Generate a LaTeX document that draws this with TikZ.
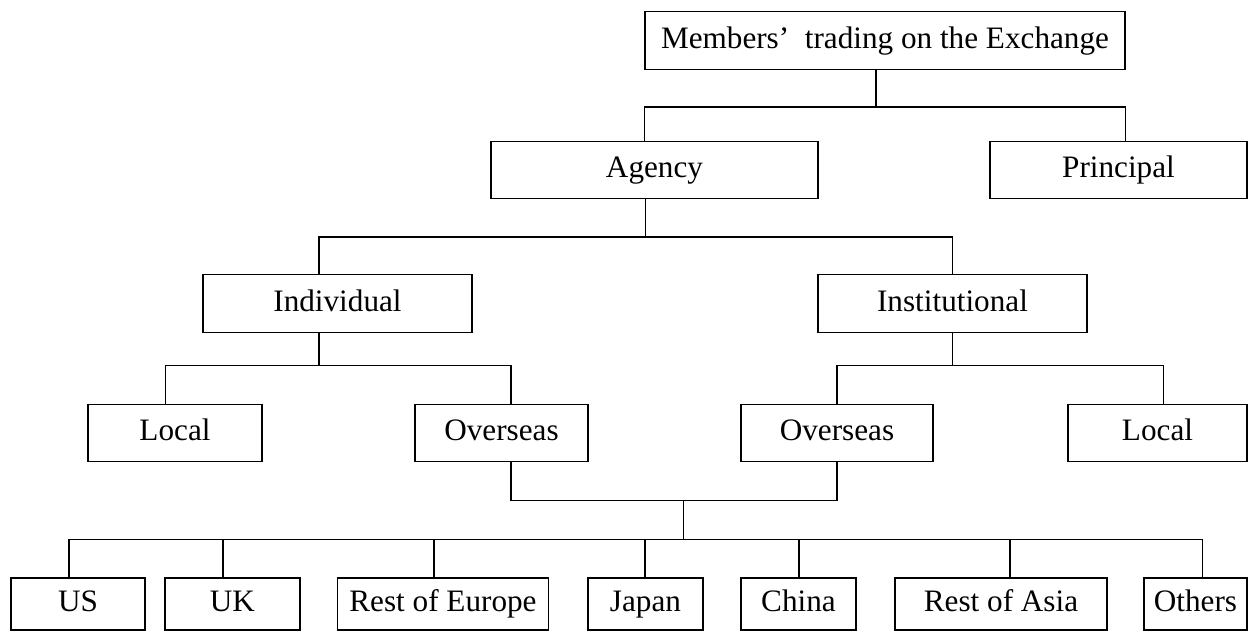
\documentclass[tikz,border=0pt]{standalone}
\usepackage{fontspec}
\setmainfont{Liberation Serif}
\tikzset{
    box/.style={draw,line width=0.7pt,inner sep=0pt,minimum height=28.75pt,
        text height=0.76em,text depth=0pt,font=\fontsize{15.6}{18}\selectfont},
    link/.style={line width=0.7pt}
}

\begin{document}
\begin{tikzpicture}[x=0.5pt,y=-0.5pt]
    \useasboundingbox (0,0) rectangle (1250,631);
    % boxes, level by level
    \node [box,minimum width=240pt] (top) at (885,40.5) {Members’\hspace{0.25em} trading on the Exchange};
    \node [box,minimum width=163.5pt] (agency) at (654.5,170) {Agency};
    \node [box,minimum width=128.5pt] (principal) at (1118.5,170) {Principal};
    \node [box,minimum width=134.5pt] (individual) at (337.5,303.5) {Individual};
    \node [box,minimum width=134.5pt] (institutional) at (952.5,303.5) {Institutional};
    \node [box,minimum width=87pt] (local-ind) at (175,433) {Local};
    \node [box,minimum width=86.5pt] (overseas-ind) at (501.5,433) {Overseas};
    \node [box,minimum width=96pt] (overseas-ins) at (837,433) {Overseas};
    \node [box,minimum width=89.5pt] (local-ins) at (1157.5,433) {Local};
    \foreach \nm/\cx/\w/\dx/\txt in {us/78/67/69.1/US, uk/232.5/67.5/223/UK,
            europe/443/105.5/434/Rest of Europe, japan/645.5/57.5/645/Japan,
            china/798.5/57.5/799/China, asia/1001/106/1010/Rest of Asia,
            others/1195.5/51.5/1202.6/Others} {
        \node [box,minimum height=26pt,minimum width=\w pt] (\nm) at (\cx,604) {\txt};
        \coordinate (b-\nm) at (\dx,539.3);
    }
    % junctions
    \coordinate (j-top) at (876,107);
    \coordinate (j-agency) at (645.5,237);
    \coordinate (j-ind) at (319,365.7);
    \coordinate (j-ins) at (952.5,365.7);
    \coordinate (j-sea) at (683.2,500.7);
    % connectors
    \draw [link] (top.south -| j-top) -- (j-top);
    \draw [link] (agency.north -| top.west) |- (j-top) -| (principal.north -| top.east);
    \draw [link] (agency.south -| j-agency) -- (j-agency);
    \draw [link] (individual.north -| j-ind) |- (j-agency) -| (institutional.north);
    \draw [link] (individual.south -| j-ind) -- (j-ind);
    \draw [link] ([xshift=-4.9pt]local-ind.north) |- (j-ind) -| ([xshift=4.65pt]overseas-ind.north);
    \draw [link] (institutional.south) -- (j-ins);
    \draw [link] (overseas-ins.north) |- (j-ins) -| ([xshift=3pt]local-ins.north);
    \draw [link] ([xshift=4.65pt]overseas-ind.south) |- (j-sea) -| (overseas-ins.south);
    \draw [link] (j-sea) -- (j-sea |- b-us);
    \draw [link] (b-us) -- (b-others);
    \foreach \nm in {us,uk,europe,japan,china,asia,others} {
        \draw [link] (b-\nm) -- (b-\nm |- \nm.north);
    }
\end{tikzpicture}
\end{document}
